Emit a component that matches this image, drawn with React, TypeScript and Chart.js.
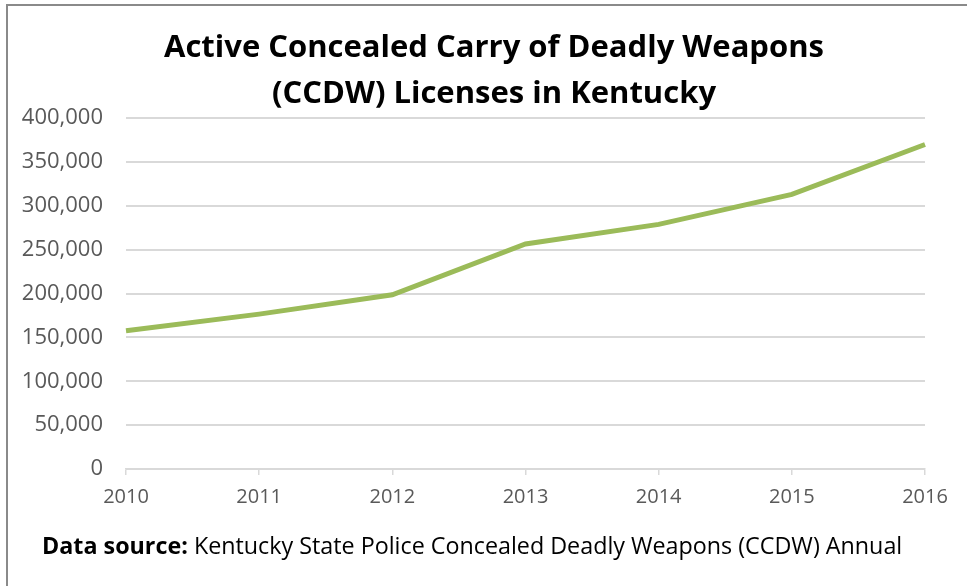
import React, { useEffect, useRef } from "react";
import { Chart, registerables } from "chart.js";

Chart.register(...registerables);

const years = ["2010", "2011", "2012", "2013", "2014", "2015", "2016"];
const licenses = [157500, 176500, 198500, 256500, 278800, 313000, 369800];
const titleLines = ["Active Concealed Carry of Deadly Weapons", "(CCDW) Licenses in Kentucky"];
const sourceBold = "Data source:";
const sourceText = " Kentucky State Police Concealed Deadly Weapons (CCDW) Annual";

const FONT = "'Open Sans', sans-serif";

const textPlugin = {
  id: "textPlugin",
  afterDraw(chart: any) {
    const ctx = chart.ctx;
    ctx.save();
    ctx.fillStyle = "#000000";
    ctx.textAlign = "center";
    ctx.textBaseline = "middle";
    ctx.font = `bold 31px ${FONT}`;
    ctx.fillText(titleLines[0], 494, 48);
    ctx.fillText(titleLines[1], 494, 94);
    ctx.textAlign = "left";
    ctx.font = `bold 23.3px ${FONT}`;
    ctx.fillText(sourceBold, 42, 547);
    const w = ctx.measureText(sourceBold).width;
    ctx.font = `23.3px ${FONT}`;
    ctx.fillText(sourceText, 42 + w, 547);
    ctx.restore();
  },
};

export default function App() {
  const ref = useRef<HTMLCanvasElement | null>(null);
  useEffect(() => {
    document.body.style.margin = "0";
    if (!ref.current) return;
    const chart = new Chart(ref.current, {
      type: "line",
      data: {
        labels: years,
        datasets: [
          {
            data: licenses,
            borderColor: "#9BBB59",
            borderWidth: 5,
            pointRadius: 0,
            tension: 0,
            fill: false,
          },
        ],
      },
      options: {
        animation: false,
        responsive: false,
        maintainAspectRatio: false,
        layout: { padding: { top: 118, right: 42, bottom: 67, left: 0 } },
        plugins: { legend: { display: false }, tooltip: { enabled: false }, title: { display: false } },
        scales: {
          x: {
            offset: false,
            grid: { drawOnChartArea: false, drawTicks: true, tickLength: 6, color: "#d9d9d9", lineWidth: 1.5 },
            border: { color: "#d9d9d9", width: 1.5 },
            ticks: { color: "#595959", font: { family: FONT, size: 20 }, padding: 10, maxRotation: 0 },
            afterFit: (s: any) => { s.height = 50; },
          },
          y: {
            min: 0,
            max: 400000,
            ticks: {
              stepSize: 50000,
              color: "#595959",
              font: { family: FONT, size: 22 },
              padding: 23,
              callback: (v: any) => Number(v).toLocaleString("en-US"),
            },
            grid: { color: "#d9d9d9", lineWidth: 2, drawTicks: false },
            border: { display: false },
            afterFit: (s: any) => { s.width = 126; },
          },
        },
      },
      plugins: [textPlugin],
    });
    return () => chart.destroy();
  }, []);
  return (
    <div style={{ position: "relative", width: 967, height: 586, background: "#fff" }}>
      <div
        style={{
          position: "absolute",
          left: 6,
          top: 4,
          right: 0,
          bottom: 0,
          borderLeft: "2px solid #8a8a8a",
          borderTop: "2px solid #8a8a8a",
        }}
      />
      <canvas ref={ref} width={967} height={586} style={{ position: "absolute", left: 0, top: 0 }} />
    </div>
  );
}
